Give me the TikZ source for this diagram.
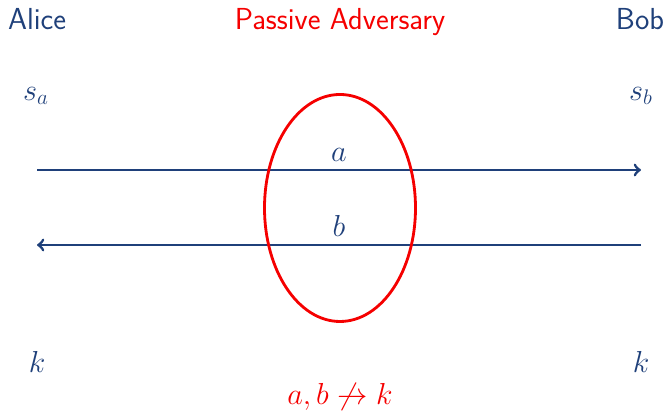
\documentclass[tikz,border=0pt]{standalone}
\usepackage{amsmath}
\usepackage{amssymb}
\usepackage{xcolor}
\usepackage{tikz}
\usetikzlibrary{shapes.geometric, arrows, positioning}
\definecolor{myblue}{RGB}{31, 64, 122}
\definecolor{myred}{RGB}{245, 0, 0}
\tikzstyle{party} = [text=myblue, font=\fontsize{17.3}{20}\selectfont\sffamily, anchor=base]
\tikzstyle{val} = [text=myblue, font=\fontsize{17.3}{20}\selectfont]
\tikzstyle{arrow} = [myblue, line width=1.6pt, ->, >=to]

\begin{document}
\begin{tikzpicture}[font=\fontsize{17.3}{20}\selectfont]
    \useasboundingbox (0,0) rectangle (13.38,8.24);
    \node (alice) [party] at (0.74,7.64) {Alice};
    \node (eve) [party, text=myred] at (6.80,7.64) {Passive Adversary};
    \node (bob) [party] at (12.80,7.64) {Bob};
    \node (sa) [val] at (0.72,6.32) {$s_a$};
    \node (sb) [val] at (12.82,6.32) {$s_b$};
    \node (ka) [val] at (0.74,1.00) {$k$};
    \node (kb) [val] at (12.82,1.00) {$k$};
    \coordinate (a1) at (0.74,4.84);
    \coordinate (a2) at (12.82,4.84);
    \coordinate (b1) at (12.82,3.34);
    \coordinate (b2) at (0.74,3.34);
    \draw [arrow] (a1) -- node [above, text=myblue, inner sep=4pt] {$a$} (a2);
    \draw [arrow] (b1) -- node [above, text=myblue, inner sep=4pt] {$b$} (b2);
    \node (tap) [draw=myred, line width=1.6pt, ellipse, minimum width=3.02cm, minimum height=4.54cm, inner sep=0pt] at (6.80,4.08) {};
    \node (claim) [text=myred] at (6.80,0.30) {$a,b \not\rightarrow k$};
\end{tikzpicture}
\end{document}
